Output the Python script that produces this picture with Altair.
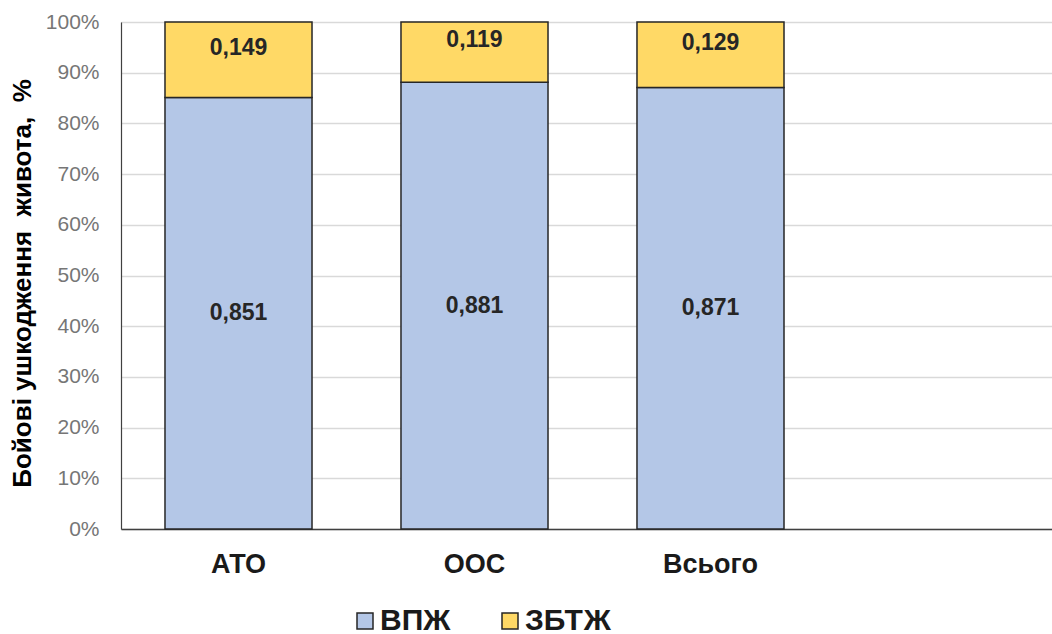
import altair as alt
import pandas as pd

categories = ["АТО", "ООС", "Всього"]
vpzh = [0.851, 0.881, 0.871]
zbtzh = [0.149, 0.119, 0.129]
series = ["ВПЖ", "ЗБТЖ"]
colors = ["#b4c7e7", "#ffd966"]

rows = []
for c, a, b in zip(categories, vpzh, zbtzh):
    rows.append({"cat": c, "series": series[0], "value": a, "ord": 0,
                 "label": f"{a:.3f}".replace(".", ",")})
    rows.append({"cat": c, "series": series[1], "value": b, "ord": 1,
                 "label": f"{b:.3f}".replace(".", ",")})
df = pd.DataFrame(rows)

FONT = "Liberation Sans"
NB = "\u00a0"

xenc = alt.X("cat:N", sort=categories, title=None,
             scale=alt.Scale(paddingInner=0.377, paddingOuter=0.661, align=0.141),
             axis=alt.Axis(labelAngle=0, ticks=False, labelPadding=22,
                           labelFont=FONT, labelFontSize=27, labelFontWeight="bold",
                           labelColor="#1a1a1a", domainColor="#404040", domainWidth=1.5,
                           grid=False))

bars = alt.Chart(df).mark_bar(stroke="#262626", strokeWidth=1.5).encode(
    x=xenc,
    y=alt.Y("value:Q", stack="zero",
            scale=alt.Scale(domain=[0, 1], nice=False),
            axis=alt.Axis(format=".0%", values=[i / 10 for i in range(11)],
                          ticks=False, labelPadding=22,
                          labelFont=FONT, labelFontSize=21, labelColor="#767676",
                          domainColor="#404040", domainWidth=1.2,
                          gridColor="#d9d9d9", gridWidth=1.5,
                          title=f"Бойові ушкодження {NB}живота, {NB}%",
                          titleFont=FONT, titleFontSize=26, titleFontWeight="bold",
                          titleColor="#000000", titleX=-99, titleY=261,
                          titleAngle=-90, titleAlign="center", titleBaseline="middle")),
    color=alt.Color("series:N", sort=series,
                    scale=alt.Scale(domain=series, range=colors),
                    legend=alt.Legend(title=None, orient="none", direction="horizontal",
                                      legendX=229, legendY=584,
                                      symbolType="square", symbolSize=256,
                                      symbolStrokeColor="#262626", symbolStrokeWidth=1.5,
                                      labelFont=FONT, labelFontSize=30, labelFontWeight="bold",
                                      labelColor="#1a1a1a", columnPadding=44, labelOffset=0)),
    order=alt.Order("ord:Q"),
)

base = alt.Chart(df).transform_stack(
    stack="value", groupby=["cat"], as_=["y0", "y1"], sort=[alt.SortField("ord")]
).transform_calculate(mid="(datum.y0 + datum.y1) / 2")

text_low = base.transform_filter(alt.datum.ord == 0).mark_text(
    font=FONT, fontSize=23, fontWeight="bold", color="#262626"
).encode(x=alt.X("cat:N", sort=categories), y="mid:Q", text="label:N")

text_high = base.transform_filter(alt.datum.ord == 1).mark_text(
    font=FONT, fontSize=23, fontWeight="bold", color="#262626", dy=-12
).encode(x=alt.X("cat:N", sort=categories), y="mid:Q", text="label:N")

chart = alt.layer(bars, text_low, text_high).properties(
    width=931, height=507,
    autosize=alt.AutoSizeParams(type="none"),
    padding={"left": 121, "top": 22, "right": 0, "bottom": 105},
).configure_view(stroke=None).configure(background="white")

chart.save("out.html", embed_options={"renderer": "svg", "actions": False})
